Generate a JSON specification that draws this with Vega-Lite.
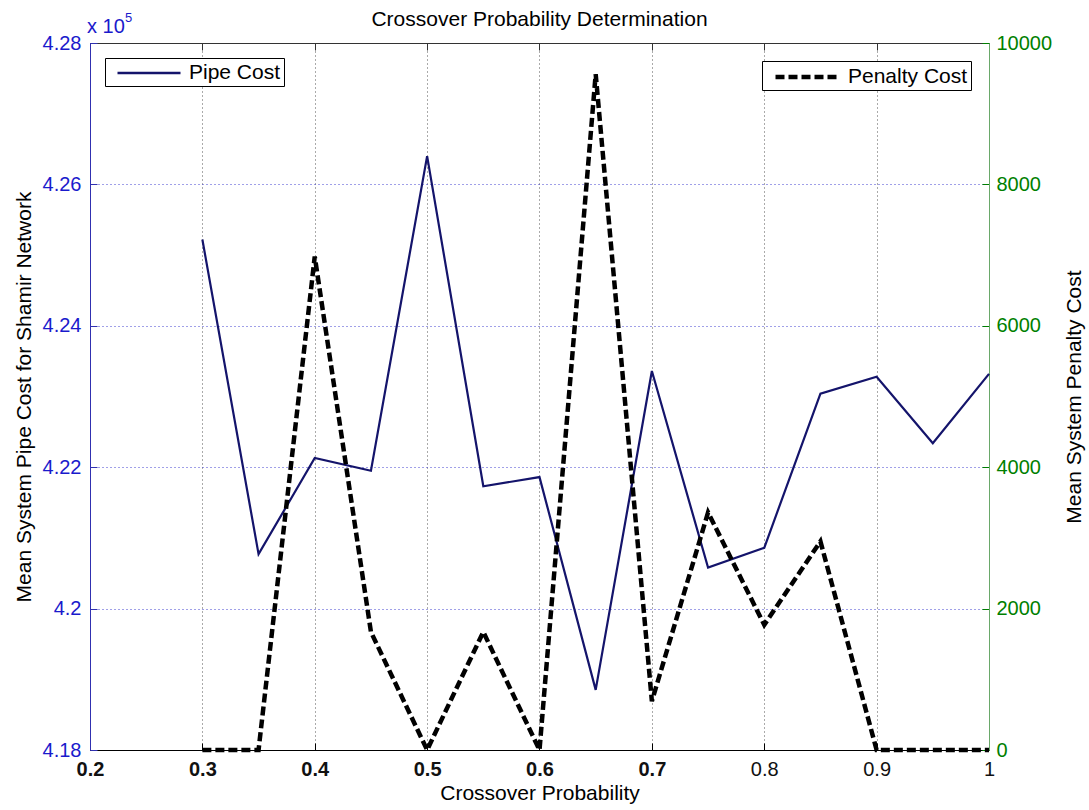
{
  "$schema": "https://vega.github.io/schema/vega-lite/v6.json",
  "width": 899,
  "height": 707,
  "autosize": {"type": "none"},
  "padding": {"left": 90, "top": 43, "right": 100, "bottom": 60},
  "background": "white",
  "title": {"text": "Crossover Probability Determination", "fontSize": 21, "fontWeight": "normal", "color": "#000", "anchor": "middle", "baseline": "alphabetic", "offset": 0, "dy": 35},
  "config": {
    "font": "Liberation Sans",
    "view": {"stroke": "#333", "strokeWidth": 1},
    "axis": {"labelFontSize": 20, "titleFontSize": 21, "titleFontWeight": "normal", "titleColor": "#000", "tickSize": -7, "gridDash": [1, 3], "gridWidth": 1, "labelFlush": false, "labelOverlap": false},
    "legend": {"title": null, "fillColor": "white", "strokeColor": "#000", "padding": 3, "labelFontSize": 21, "labelColor": "#000", "symbolType": "M-3,0H3", "symbolSize": 441, "labelLimit": 400, "cornerRadius": 0, "symbolOffset": 29, "labelOffset": 28}
  },
  "data": {
    "values": [
      {"p": 0.3, "pipe": 425220, "penalty": 0},
      {"p": 0.35, "pipe": 420770, "penalty": 0},
      {"p": 0.4, "pipe": 422130, "penalty": 6980},
      {"p": 0.45, "pipe": 421950, "penalty": 1670},
      {"p": 0.5, "pipe": 426400, "penalty": 0},
      {"p": 0.55, "pipe": 421730, "penalty": 1670},
      {"p": 0.6, "pipe": 421860, "penalty": 0},
      {"p": 0.65, "pipe": 418850, "penalty": 9560},
      {"p": 0.7, "pipe": 423360, "penalty": 690},
      {"p": 0.75, "pipe": 420580, "penalty": 3360},
      {"p": 0.8, "pipe": 420860, "penalty": 1770},
      {"p": 0.85, "pipe": 423040, "penalty": 2950},
      {"p": 0.9, "pipe": 423280, "penalty": 0},
      {"p": 0.95, "pipe": 422340, "penalty": 0},
      {"p": 1.0, "pipe": 423320, "penalty": 0}
    ]
  },
  "layer": [
    {
      "encoding": {
        "x": {"field": "p", "type": "quantitative", "scale": {"domain": [0.2, 1], "nice": false, "zero": false},
          "axis": {"orient": "bottom", "title": "Crossover Probability", "titleY": 49, "titleBaseline": "alphabetic", "values": [0.2, 0.3, 0.4, 0.5, 0.6, 0.7, 0.8, 0.9, 1], "labelExpr": "datum.value == 1 ? '1' : format(datum.value, '.1f')", "labelColor": "#111", "labelPadding": 16, "labelFontWeight": {"condition": {"test": "datum.value <= 0.71", "value": "bold"}, "value": "normal"}, "grid": true, "gridColor": "#555", "domainColor": "#000", "tickColor": "#000"}},
        "y": {"field": "pipe", "type": "quantitative", "scale": {"domain": [418000, 428000], "nice": false, "zero": false},
          "axis": {"orient": "left", "title": "Mean System Pipe Cost for Shamir Network", "titleX": -60, "titleBaseline": "alphabetic", "values": [418000, 420000, 422000, 424000, 426000, 428000], "labelExpr": "format(datum.value / 100000, '.3~f')", "labelColor": "#1a1acc", "labelPadding": 16, "grid": true, "gridColor": "#4040d0", "domainColor": "#3030b0", "tickColor": "#3030b0"}}
      },
      "layer": [
        {
          "mark": {"type": "line", "strokeWidth": 2.2},
          "encoding": {
            "color": {"datum": "Pipe Cost", "scale": {"range": ["#14146b"]},
              "legend": {"orient": "top-left", "offset": 15, "symbolStrokeWidth": 2.5, "encode": {"symbols": {"update": {"stroke": {"value": "#000"}}}}}}
          }
        },
        {
          "data": {"values": [{"mult": "x 10", "exp": "5", "p0": 0.2, "top": 428000}]},
          "mark": {"type": "text", "align": "left", "baseline": "alphabetic", "fontSize": 20, "fontWeight": "normal", "color": "#1a1acc", "dx": -3, "dy": -10},
          "encoding": {"x": {"field": "p0", "type": "quantitative"}, "y": {"field": "top", "type": "quantitative"}, "text": {"field": "mult"}}
        },
        {
          "data": {"values": [{"mult": "x 10", "exp": "5", "p0": 0.2, "top": 428000}]},
          "mark": {"type": "text", "align": "left", "baseline": "alphabetic", "fontSize": 13, "fontWeight": "normal", "color": "#1a1acc", "dx": 35, "dy": -21},
          "encoding": {"x": {"field": "p0", "type": "quantitative"}, "y": {"field": "top", "type": "quantitative"}, "text": {"field": "exp"}}
        }
      ]
    },
    {
      "mark": {"type": "line", "strokeWidth": 4.5, "strokeDash": [9, 4]},
      "encoding": {
        "x": {"field": "p", "type": "quantitative", "axis": {"orient": "top", "labels": false, "title": null, "grid": false, "domainColor": "#333", "tickColor": "#333", "values": [0.2, 0.3, 0.4, 0.5, 0.6, 0.7, 0.8, 0.9, 1]}},
        "y": {"field": "penalty", "type": "quantitative", "scale": {"domain": [0, 10000], "nice": false},
          "axis": {"orient": "right", "title": "Mean System Penalty Cost", "titleAngle": 270, "titleX": 91, "titleBaseline": "alphabetic", "values": [0, 2000, 4000, 6000, 8000, 10000], "labelColor": "#007f00", "labelPadding": 14, "format": "d", "grid": false, "domainColor": "#6aa86a", "tickColor": "#007f00"}},
        "color": {"datum": "Penalty Cost", "scale": {"range": ["#000"]},
          "legend": {"orient": "top-right", "offset": 18, "symbolStrokeWidth": 4.5, "symbolDash": [9, 4]}}
      }
    }
  ],
  "resolve": {"scale": {"y": "independent", "color": "independent"}, "axis": {"x": "independent"}}
}
